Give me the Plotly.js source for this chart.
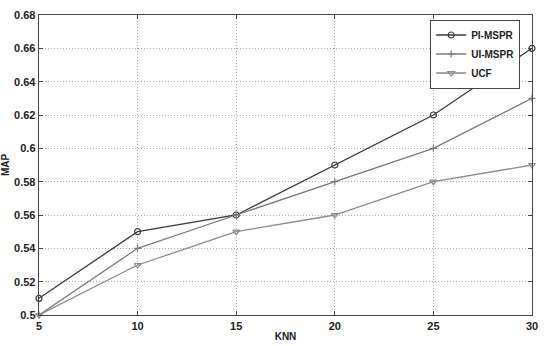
<!DOCTYPE html>
<html>
<head>
<meta charset="utf-8">
<script src="https://cdn.plot.ly/plotly-3.0.1.min.js"></script>
<style>
  html, body { margin: 0; padding: 0; background: #fff; }
  #graphique { width: 550px; height: 346px; }
</style>
</head>
<body>
<div id="graphique"></div>
<script>
// Valeurs
const knn = [5, 10, 15, 20, 25, 30];
const pi_mspr = [0.51, 0.55, 0.56, 0.59, 0.62, 0.66];
const ui_mspr = [0.50, 0.54, 0.56, 0.58, 0.60, 0.63];
const ucf = [0.50, 0.53, 0.55, 0.56, 0.58, 0.59];

const y_ticks = [0.5, 0.52, 0.54, 0.56, 0.58, 0.6, 0.62, 0.64, 0.66, 0.68];
const y_labels = ["0.5", "0.52", "0.54", "0.56", "0.58", "0.6", "0.62", "0.64", "0.66", "0.68"];

function trace(nom, valeurs, couleur, symbole, taille) {
    return {
        x: knn,
        y: valeurs,
        type: "scatter",
        mode: "lines+markers",
        name: nom,
        line: {color: couleur, width: 1.3},
        marker: {symbol: symbole, size: taille, color: couleur,
                 line: {color: couleur, width: 1.2}},
        cliponaxis: false
    };
}

let donnee = [
    trace("PI-MSPR", pi_mspr, "#3a3a3a", "circle-open", 6),
    trace("UI-MSPR", ui_mspr, "#7a7a7a", "cross-thin-open", 5),
    trace("UCF", ucf, "#8a8a8a", "triangle-down-open", 6)
];

let police = {family: "Liberation Sans, Arial, sans-serif", size: 11, color: "#222"};

let apparence = {
    width: 550,
    height: 346,
    margin: {l: 39, r: 18, t: 15, b: 31},
    paper_bgcolor: "#fff",
    plot_bgcolor: "#fff",
    font: police,
    showlegend: true,
    legend: {
        x: 0.976, y: 0.985, xanchor: "right", yanchor: "top",
        bgcolor: "#fff", bordercolor: "#444", borderwidth: 1,
        font: {family: "Liberation Sans, Arial, sans-serif", size: 10, color: "#222", weight: "bold"},
        tracegroupgap: 0, itemwidth: 30
    },
    xaxis: {
        title: {text: "<b>KNN</b>", font: {size: 10}, standoff: 2},
        range: [5, 30],
        tickvals: knn,
        ticktext: knn.map(v => "<b>" + v + "</b>"),
        ticks: "inside", ticklen: 4, tickcolor: "#444",
        showgrid: true, gridcolor: "#a8a8a8", griddash: "1px,2px", gridwidth: 1,
        showline: true, linecolor: "#444", linewidth: 1.3, mirror: "ticks",
        zeroline: false
    },
    yaxis: {
        title: {text: "<b>MAP</b>", font: {size: 10}, standoff: 6},
        range: [0.5, 0.68],
        tickvals: y_ticks,
        ticktext: y_labels.map(v => "<b>" + v + "</b>"),
        ticks: "inside", ticklen: 4, tickcolor: "#444",
        showgrid: true, gridcolor: "#a8a8a8", griddash: "1px,2px", gridwidth: 1,
        showline: true, linecolor: "#444", linewidth: 1.3, mirror: "ticks",
        zeroline: false
    }
};

Plotly.newPlot("graphique", donnee, apparence, {displayModeBar: false, staticPlot: true});
</script>
</body>
</html>
